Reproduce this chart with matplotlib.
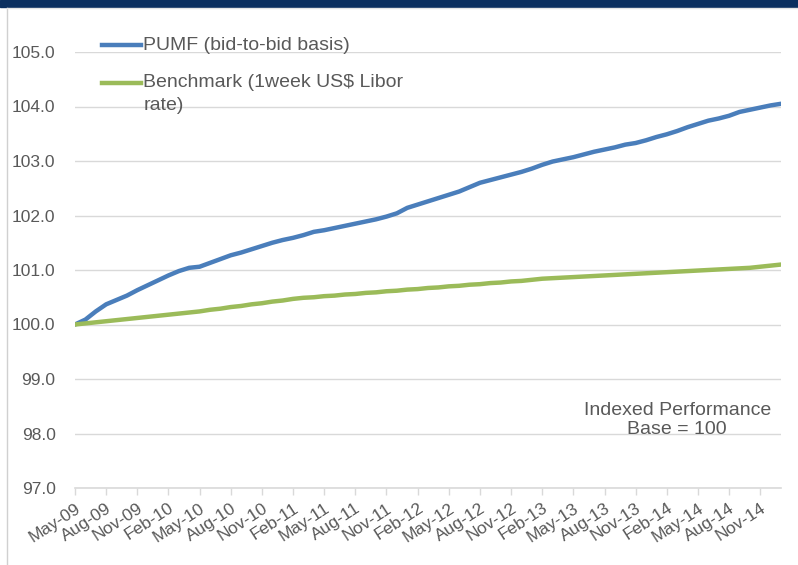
import numpy as np
import pandas as pd
import matplotlib.pyplot as plt
from matplotlib.patches import Rectangle
from matplotlib.lines import Line2D

plt.rcParams['font.family'] = ['Liberation Sans', 'DejaVu Sans']

# monthly categories May-09 .. Jan-15
months = pd.date_range("2009-05-01", "2015-01-01", freq="MS").strftime("%b-%y").tolist()

pumf = [100.00, 100.09, 100.24, 100.37, 100.45, 100.53, 100.63, 100.72, 100.81, 100.90,
        100.98, 101.04, 101.06, 101.13, 101.20, 101.27, 101.32, 101.38, 101.44, 101.50,
        101.55, 101.59, 101.64, 101.70, 101.73, 101.77, 101.81, 101.85, 101.89, 101.93,
        101.98, 102.04, 102.14, 102.20, 102.26, 102.32, 102.38, 102.44, 102.52, 102.60,
        102.65, 102.70, 102.75, 102.80, 102.86, 102.93, 102.99, 103.03, 103.07, 103.12,
        103.17, 103.21, 103.25, 103.30, 103.33, 103.38, 103.44, 103.49, 103.55, 103.62,
        103.68, 103.74, 103.78, 103.83, 103.90, 103.94, 103.98, 104.02, 104.05]

benchmark = [100.00, 100.02, 100.04, 100.06, 100.08, 100.10, 100.12, 100.14, 100.16, 100.18,
             100.20, 100.22, 100.24, 100.27, 100.29, 100.32, 100.34, 100.37, 100.39, 100.42,
             100.44, 100.47, 100.49, 100.50, 100.52, 100.53, 100.55, 100.56, 100.58, 100.59,
             100.61, 100.62, 100.64, 100.65, 100.67, 100.68, 100.70, 100.71, 100.73, 100.74,
             100.76, 100.77, 100.79, 100.80, 100.82, 100.84, 100.85, 100.86, 100.87, 100.88,
             100.89, 100.90, 100.91, 100.92, 100.93, 100.94, 100.95, 100.96, 100.97, 100.98,
             100.99, 101.00, 101.01, 101.02, 101.03, 101.04, 101.06, 101.08, 101.10]

tick_labels = ["May-09", "Aug-09", "Nov-09", "Feb-10", "May-10", "Aug-10", "Nov-10",
               "Feb-11", "May-11", "Aug-11", "Nov-11", "Feb-12", "May-12", "Aug-12",
               "Nov-12", "Feb-13", "May-13", "Aug-13", "Nov-13", "Feb-14", "May-14",
               "Aug-14", "Nov-14"]

blue = "#4a7ebb"
green = "#9bbb59"
grey_txt = "#595959"
grid_c = "#d9d9d9"

fig = plt.figure(figsize=(7.98, 5.65), dpi=100)

# header band and panel border
fig.patches.append(Rectangle((0, 1 - 7/565), 1, 7/565, transform=fig.transFigure,
                             color="#0b2f5f", zorder=0))
fig.add_artist(Line2D([7/798, 7/798], [0, 1 - 8/565], transform=fig.transFigure,
                      color="#d0d0d0", lw=1))
fig.add_artist(Line2D([7/798, 1], [1 - 8/565, 1 - 8/565], transform=fig.transFigure,
                      color="#e4e4e4", lw=1))

ax = fig.add_axes([75/798, 1 - 488/565, 706/798, 436/565])
x = np.arange(len(months))
ax.plot(x, pumf, color=blue, lw=3.2, solid_capstyle="round", zorder=3)
ax.plot(x, benchmark, color=green, lw=3.2, solid_capstyle="round", zorder=3)

ax.set_xlim(0, len(months) - 1)
ax.set_ylim(97, 105)
ax.set_yticks(np.arange(97, 105.1, 1))
ax.set_yticklabels([f"{v:.1f}" for v in np.arange(97, 105.1, 1)])
ax.yaxis.grid(True, color=grid_c, lw=1)
ax.set_axisbelow(True)
ax.tick_params(axis="y", length=0, pad=14, labelsize=12.5, labelcolor=grey_txt)

tick_pos = [months.index(t) for t in tick_labels]
ax.set_xticks(tick_pos)
ax.set_xticklabels(tick_labels, rotation=33, ha="right", rotation_mode="anchor")
ax.tick_params(axis="x", length=5, width=1, color=grid_c, labelsize=12.5,
               labelcolor=grey_txt, pad=4)

for s in ["top", "right", "left"]:
    ax.spines[s].set_visible(False)
ax.spines["bottom"].set_color(grid_c)
ax.spines["bottom"].set_linewidth(1.2)

# legend drawn by hand
ax.add_artist(Line2D([0.038, 0.094], [1.015, 1.015], transform=ax.transAxes,
                     color=blue, lw=3.2, clip_on=False))
ax.text(0.097, 1.015, "PUMF (bid-to-bid basis)", transform=ax.transAxes,
        fontsize=14, color=grey_txt, va="center", ha="left")
ax.add_artist(Line2D([0.038, 0.094], [0.93, 0.93], transform=ax.transAxes,
                     color=green, lw=3.2, clip_on=False))
ax.text(0.097, 0.93, "Benchmark (1week US$ Libor", transform=ax.transAxes,
        fontsize=14, color=grey_txt, va="center", ha="left")
ax.text(0.097, 0.877, "rate)", transform=ax.transAxes,
        fontsize=14, color=grey_txt, va="center", ha="left")

ax.text(0.853, 0.157, "Indexed Performance\nBase = 100", transform=ax.transAxes,
        fontsize=14, color=grey_txt, ha="center", va="center", linespacing=1.15)

fig.savefig("out.png", dpi=100)
